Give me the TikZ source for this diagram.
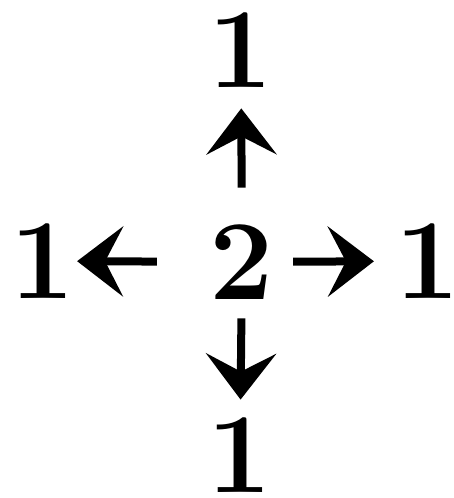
\documentclass[tikz,border=0pt]{standalone}
\usetikzlibrary{arrows.meta}
\begin{document}
\begin{tikzpicture}[x=1pt,y=-1pt,
  digit/.style={inner sep=0pt,outer sep=0pt,font=\fontsize{114}{114}\selectfont\bfseries},
  arr/.style={line width=8pt,-{Stealth[length=46pt,width=70pt,inset=18pt]}}]
\useasboundingbox (0,0) rectangle (454,498);
\node[digit] (two) at (242,262) {2};
\node[digit] (top) at (241,50) {1};
\node[digit] (bot) at (240,455) {1};
\node[digit] (lft) at (43,261) {1};
\node[digit] (rgt) at (428,261) {1};
\draw[arr,shorten <=37pt,shorten >=21pt] (two) -- (top);
\draw[arr,shorten <=19pt,shorten >=18pt] (two) -- (bot);
\draw[arr,shorten <=53pt,shorten >=2pt] (two) -- (lft);
\draw[arr,shorten <=19pt,shorten >=22pt] (two) -- (rgt);
\end{tikzpicture}
\end{document}
